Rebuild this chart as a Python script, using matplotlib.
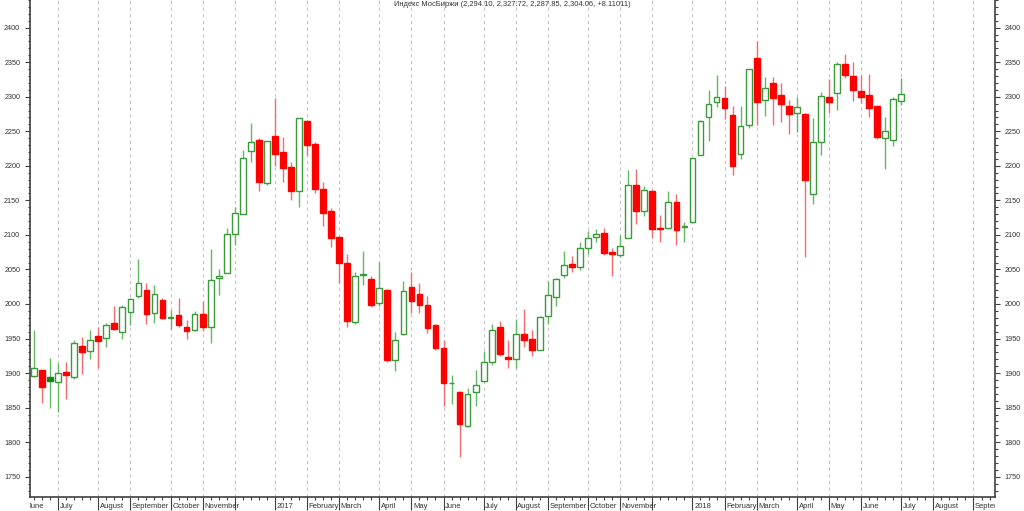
import numpy as np
import pandas as pd
import matplotlib
matplotlib.use("Agg")
import matplotlib.pyplot as plt
import matplotlib.dates as mdates
import matplotlib.ticker as mticker
import matplotlib.transforms as mtransforms

plt.rcParams['font.family'] = ['Liberation Sans', 'DejaVu Sans']

title = 'Индекс МосБиржи (2,294.10, 2,327.72, 2,287.85, 2,304.06, +8.11011)'

# weekly candles, first week starts 2016-06-06
weeks = pd.date_range('2016-06-06', periods=109, freq='7D')

opens = [1896, 1904, 1894, 1887, 1901, 1894, 1939, 1932, 1953, 1951,
         1973, 1960, 1989, 2012, 2020, 1987, 2006, 1980, 1984, 1967,
         1963, 1985, 1967, 2037, 2045, 2101, 2130, 2221, 2237, 2175,
         2243, 2220, 2198, 2163, 2265, 2232, 2167, 2135, 2097, 2060,
         1974, 2042, 2036, 2001, 2020, 1919, 1956, 2025, 2015, 1998,
         1970, 1936, 1885, 1873, 1823, 1873, 1888, 1916, 1966, 1923,
         1920, 1956, 1950, 1934, 1982, 2010, 2042, 2058, 2053, 2081,
         2097, 2103, 2075, 2071, 2096, 2172, 2135, 2163, 2110, 2110,
         2147, 2112, 2118, 2216, 2271, 2293, 2298, 2273, 2217, 2259,
         2356, 2295, 2320, 2303, 2287, 2277, 2275, 2159, 2235, 2299,
         2305, 2347, 2330, 2309, 2302, 2286, 2240, 2237, 2294.10]
highs = [1962, 1905, 1922, 1914, 1916, 1948, 1952, 1962, 1967, 1972,
         1997, 1999, 2008, 2065, 2030, 2028, 2008, 1992, 2008, 1977,
         1990, 2005, 2080, 2051, 2110, 2140, 2223, 2262, 2240, 2236,
         2298, 2242, 2206, 2269, 2266, 2234, 2176, 2139, 2098, 2073,
         2047, 2076, 2041, 2061, 2021, 1959, 2033, 2047, 2031, 2012,
         1971, 1948, 1897, 1874, 1878, 1905, 1932, 1971, 1975, 1948,
         1978, 1993, 1962, 1983, 2033, 2038, 2076, 2069, 2089, 2106,
         2108, 2110, 2081, 2100, 2194, 2195, 2171, 2165, 2129, 2164,
         2159, 2118, 2211, 2266, 2310, 2331, 2316, 2287, 2287, 2340,
         2380, 2328, 2328, 2320, 2295, 2299, 2276, 2269, 2307, 2326,
         2350, 2362, 2350, 2331, 2333, 2286, 2271, 2299, 2327.72]
lows = [1895, 1857, 1850, 1844, 1863, 1891, 1899, 1921, 1907, 1938,
        1963, 1950, 1970, 2008, 1971, 1972, 1978, 1964, 1966, 1950,
        1961, 1961, 1943, 2013, 2045, 2085, 2130, 2206, 2164, 2172,
        2199, 2176, 2151, 2140, 2215, 2161, 2113, 2083, 2030, 1967,
        1971, 2028, 1996, 1997, 1916, 1903, 1955, 1987, 1987, 1958,
        1934, 1853, 1855, 1778, 1822, 1853, 1887, 1912, 1925, 1907,
        1907, 1937, 1925, 1933, 1971, 1997, 2037, 2047, 2049, 2073,
        2089, 2071, 2041, 2068, 2096, 2116, 2127, 2096, 2090, 2109,
        2086, 2090, 2117, 2215, 2236, 2285, 2268, 2186, 2210, 2254,
        2259, 2272, 2259, 2264, 2246, 2249, 2068, 2144, 2216, 2277,
        2281, 2327, 2294, 2291, 2271, 2239, 2195, 2228, 2287.85]
closes = [1907, 1880, 1888, 1900, 1897, 1944, 1930, 1948, 1947, 1969,
          1964, 1996, 2007, 2031, 1986, 2014, 1980, 1981, 1969, 1961,
          1985, 1966, 2034, 2040, 2101, 2131, 2211, 2235, 2177, 2236,
          2217, 2197, 2163, 2269, 2230, 2166, 2131, 2096, 2060, 1976,
          2041, 2043, 1999, 2023, 1919, 1948, 2019, 2004, 1998, 1965,
          1936, 1885, 1886, 1826, 1870, 1882, 1916, 1963, 1927, 1920,
          1956, 1948, 1933, 1981, 2013, 2036, 2056, 2054, 2081, 2096,
          2101, 2074, 2072, 2084, 2172, 2135, 2165, 2109, 2108, 2147,
          2107, 2113, 2211, 2265, 2289, 2299, 2284, 2200, 2258, 2340,
          2293, 2313, 2298, 2289, 2275, 2285, 2179, 2235, 2301, 2293,
          2348, 2331, 2310, 2299, 2284, 2241, 2251, 2296, 2304.06]

# month axis labels, June 2016 .. September 2018 (December is not labelled)
months = pd.date_range('2016-06-01', '2018-09-01', freq='MS')
month_labels = ['June', 'July', 'August', 'September', 'October', 'November', '',
                '2017', 'February', 'March', 'April', 'May', 'June', 'July',
                'August', 'September', 'October', 'November', '',
                '2018', 'February', 'March', 'April', 'May', 'June', 'July',
                'August', 'September']

o = np.array(opens)
h = np.array(highs)
l = np.array(lows)
c = np.array(closes)
x = mdates.date2num(weeks)

# colour by change vs previous close, fill when close < open
prev = np.r_[c[0], c[:-1]]
up = c >= prev
hollow = c >= o

green_edge = '#3a9a3a'
green_fill = '#138a13'
green_wick = '#62b862'
red = '#ff0000'
red_wick = '#f26c6c'

faces, edges, wicks = [], [], []
for u, hw in zip(up, hollow):
    col = green_edge if u else red
    if hw:
        faces.append('white')
        edges.append(col)
    else:
        f = green_fill if u else red
        faces.append(f)
        edges.append(f)
    wicks.append(green_wick if u else red_wick)

fig = plt.figure(figsize=(10.24, 5.11), dpi=100)
ax = fig.add_axes([30 / 1024, 14 / 511, 965 / 1024, 497 / 511])

ax.vlines(x, l, h, colors=wicks, linewidth=1.0, zorder=2)
bottoms = np.minimum(o, c)
heights = np.maximum(np.abs(c - o), 0.6)
ax.bar(x, heights, bottom=bottoms, width=5.0, color=faces, edgecolor=edges,
       linewidth=1.0, zorder=3)

# month tick positions: week that holds the first trading day of the month
tick_pos = []
for m in months:
    d = m
    while d.weekday() >= 5:
        d = d + pd.Timedelta(days=1)
    tick_pos.append(mdates.date2num(d - pd.Timedelta(days=d.weekday())))

ax.set_xlim(x[0] - 3.5, x[0] + 119.68 * 7)
ax.set_ylim(1720.6, 2440)

minor_weeks = pd.date_range('2016-05-30', periods=125, freq='7D')
ax.xaxis.set_major_locator(mticker.FixedLocator(tick_pos))
ax.xaxis.set_minor_locator(mticker.FixedLocator(mdates.date2num(minor_weeks)))
ax.xaxis.set_major_formatter(mticker.NullFormatter())
ax.tick_params(axis='x', which='major', direction='out', length=9.5, width=0.8,
               color='#404040')
ax.tick_params(axis='x', which='minor', direction='out', length=2.2, width=0.8,
               color='#404040')

ax.yaxis.set_major_locator(mticker.MultipleLocator(50))
ax.yaxis.set_minor_locator(mticker.MultipleLocator(10))
ax.tick_params(axis='y', which='both', left=True, right=True, labelleft=True,
               labelright=True, direction='out', color='#404040', width=0.8)
ax.tick_params(axis='y', which='major', length=3.5, pad=3.5, labelsize=5.2,
               labelcolor='#333333')
ax.tick_params(axis='y', which='minor', length=1.8)

ax.grid(axis='x', which='major', color='#c4c4c4', linestyle=(0, (3, 3)),
        linewidth=0.8, zorder=0)
ax.set_axisbelow(True)

for side in ['left', 'right', 'bottom']:
    ax.spines[side].set_color('#404040')
    ax.spines[side].set_linewidth(1.2)
ax.spines['top'].set_visible(False)

# month labels sit to the right of the long ticks, clipped to the plot width
base = mtransforms.blended_transform_factory(ax.transData, ax.transAxes)
lab_trans = base + mtransforms.ScaledTranslation(1.2 / 72, -6.6 / 72, fig.dpi_scale_trans)
clip = mtransforms.TransformedBbox(mtransforms.Bbox([[0, -1], [1, 0]]), ax.transAxes)
for pos, lab in zip(tick_pos, month_labels):
    if not lab:
        continue
    t = ax.text(pos, 0, lab, transform=lab_trans, ha='left', va='center',
                fontsize=5.5, color='#333333')
    t.set_clip_box(clip)
    t.set_clip_on(True)

fig.text(512 / 1024, 1 - 5 / 511, title, ha='center', va='center',
         fontsize=5.4, color='#333333')

fig.savefig('out.png', dpi=100)
